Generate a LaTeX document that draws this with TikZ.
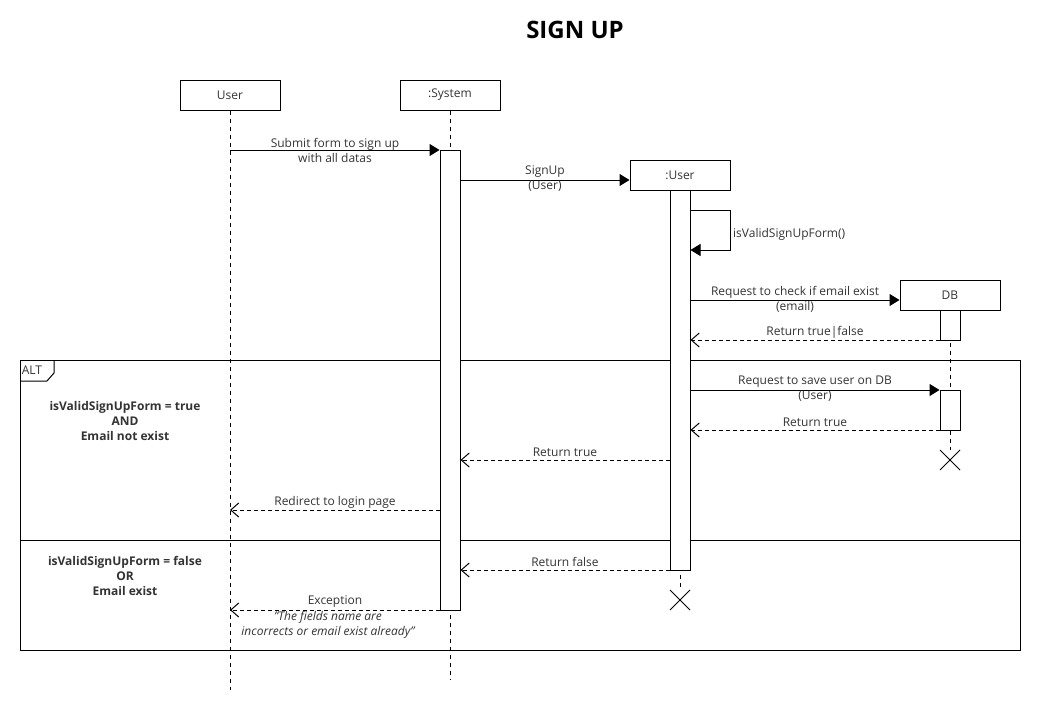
\documentclass[tikz,border=0pt]{standalone}
\usepackage{fontspec}
\setmainfont{Open Sans}
\usetikzlibrary{arrows.meta}
\definecolor{txt}{HTML}{333333}
\begin{document}
\begin{tikzpicture}[x=1pt,y=-1pt,
  every node/.style={text=txt},
  base/.style={font=\fontsize{12}{15}\selectfont},
  obj/.style={base, draw, line width=1pt, minimum width=100pt, minimum height=30pt, inner sep=0pt, fill=white},
  act/.style={draw, line width=1pt, fill=white, minimum width=20pt, inner sep=0pt},
  life/.style={line width=1pt, dash pattern=on 4pt off 4pt},
  call/.style={line width=1pt, -{Triangle[length=10pt,width=12pt]}},
  reply/.style={line width=1pt, dash pattern=on 4pt off 3pt, -{Straight Barb[length=8pt,width=14pt,line width=1pt]}},
  lbl/.style={base, align=center, inner sep=0pt},
  guard/.style={align=center, inner sep=0pt, font=\bfseries\fontsize{12}{15}\selectfont},
  destroy/.style={line width=1pt}]

\useasboundingbox (0,0) rectangle (1050,720);

% title
\node[font=\bfseries\fontsize{24}{28}\selectfont, text=black] (title) at (575,30) {SIGN UP};

% participants
\node[obj] (User) at (230,95) {User};
\node[obj] (Sys) at (450,95) {:System};
\node[obj] (UObj) at (680,175) {:User};
\node[obj] (DB) at (950,295) {DB};

% lifeline ends
\coordinate (userEnd) at (230,690);
\coordinate (sysEnd) at (450,680);
\coordinate (uDestroy) at (680,590);
\coordinate (dbDestroy) at (950,450);

\draw[life] (User.south) -- (userEnd);
\draw[life] (Sys.south) -- (sysEnd);
\draw[life] (UObj.south) -- (uDestroy);
\draw[life] (DB.south) -- (dbDestroy);

% combined fragment
\node[draw, line width=1pt, minimum width=1000pt, minimum height=290pt, inner sep=0pt] (alt) at (520,505) {};
\coordinate (divL) at (20,540);
\coordinate (divR) at (1020,540);
\draw[line width=1pt] (divL) -- (divR);
\coordinate (tagA) at (20,381);
\coordinate (tagB) at (47,381);
\coordinate (tagC) at (54,373);
\coordinate (tagD) at (54,360);
\draw[line width=1pt] (tagA) -- (tagB) -- (tagC) -- (tagD);
\node[base, inner sep=0pt] (altlbl) at (32,370) {ALT};

\node[guard] (g1) at (125,421) {isValidSignUpForm = true\\AND\\Email not exist};
\node[guard] (g2) at (125,576) {isValidSignUpForm = false\\OR\\Email exist};

% activations
\node[act, minimum height=460pt] (aSys) at (450,380) {};
\node[act, minimum height=380pt] (aU) at (680,380) {};
\node[act, minimum height=30pt] (aDB1) at (950,325) {};
\node[act, minimum height=40pt] (aDB2) at (950,410) {};

% message levels
\coordinate (m1) at (0,150);
\coordinate (m2) at (0,180);
\coordinate (m4) at (0,300);
\coordinate (m5) at (0,340);
\coordinate (m6) at (0,390);
\coordinate (m7) at (0,430);
\coordinate (m8) at (0,460);
\coordinate (m9) at (0,510);
\coordinate (m10) at (0,570);
\coordinate (m11) at (0,610);

\draw[call] (User |- m1) -- (aSys.west |- m1);
\node[lbl] (t1) at (335,150) {Submit form to sign up\\with all datas};

\draw[call] (aSys.east |- m2) -- (UObj.west |- m2);
\node[lbl] (t2) at (545,179) {SignUp\\(User)};

% self call
\coordinate (s1) at (730,210);
\coordinate (s2) at (730,250);
\draw[line width=1pt, -{Triangle[length=10pt,width=12pt]}] (aU.east |- s1) -- (s1) -- (s2) -- (aU.east |- s2);
\node[base, anchor=west, inner sep=0pt] (t3) at (733,234) {isValidSignUpForm()};

\draw[call] (aU.east |- m4) -- (DB.west |- m4);
\node[lbl] (t4) at (795,299) {Request to check if email exist\\(email)};

\draw[reply] (aDB1.west |- m5) -- (aU.east |- m5);
\node[lbl] (t5) at (815,332) {Return true|false};

\draw[call] (aU.east |- m6) -- (aDB2.west |- m6);
\node[lbl] (t6) at (815,389) {Request to save user on DB\\(User)};

\draw[reply] (aDB2.west |- m7) -- (aU.east |- m7);
\node[lbl] (t7) at (815,422) {Return true};

\draw[reply] (aU.west |- m8) -- (aSys.east |- m8);
\node[lbl] (t8) at (565,452) {Return true};

\draw[reply] (aSys.west |- m9) -- (User |- m9);
\node[lbl] (t9) at (335,502) {Redirect to login page};

\draw[reply] (aU.west |- m10) -- (aSys.east |- m10);
\node[lbl] (t10) at (565,562) {Return false};

\draw[reply] (aSys.west |- m11) -- (User |- m11);
\node[lbl] (t11) at (335,602) {Exception};
\node[lbl, font=\itshape\fontsize{12}{15}\selectfont] (t12) at (328,625) {"The fields name are\\incorrects or email exist already"};

% destruction marks
\draw[destroy] ([shift={(-10,0)}]uDestroy) -- ([shift={(10,20)}]uDestroy)
               ([shift={(-10,20)}]uDestroy) -- ([shift={(10,0)}]uDestroy);
\draw[destroy] ([shift={(-10,0)}]dbDestroy) -- ([shift={(10,20)}]dbDestroy)
               ([shift={(-10,20)}]dbDestroy) -- ([shift={(10,0)}]dbDestroy);
\end{tikzpicture}
\end{document}
